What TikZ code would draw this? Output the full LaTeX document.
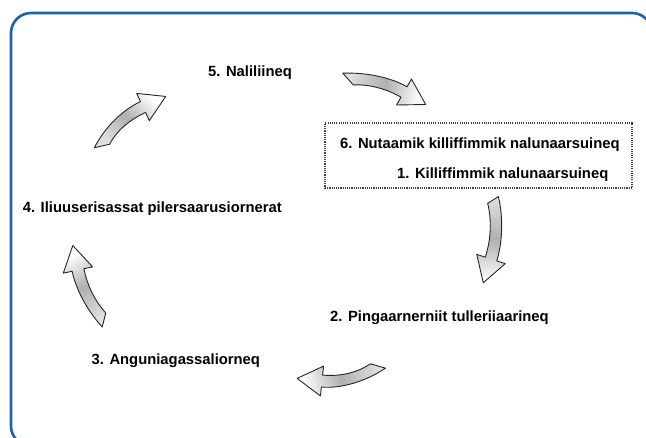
\documentclass[tikz,border=0pt]{standalone}
\usepackage{fontspec}
\setmainfont{Liberation Sans}
\usetikzlibrary{calc}
\definecolor{frameblue}{RGB}{28,99,171}
\tikzset{
  lbl/.style={anchor=base west, inner sep=0pt, font=\bfseries\fontsize{14.8}{16}\selectfont, text=black},
  dotbox/.style={draw=black!75, line width=1.3pt, dash pattern=on 1.1pt off 1.1pt, minimum width=307pt, minimum height=65pt, inner sep=0pt},
  arrowshape/.style={draw=black!85, line width=0.9pt, line join=round, left color=white, right color=gray!25, middle color=gray!62},
}
% #1 start, #2 start heading, #3 head base, #4 end heading, #5 shading angle, #6 tail slant
\newcommand{\curvarrow}[6]{%
  \shadedraw[arrowshape, shading angle=#5]
   ($#1+(#2-90:6)+(#2+180:#6)$) .. controls ($#1+(#2-90:6)+(#2:19)$) and ($#3+(#4-90:6)+(#4+180:19)$) .. ($#3+(#4-90:6)$)
   -- ($#3+(#4-90:15)$) -- ($#3+(#4:25)$) -- ($#3+(#4+90:15)$) -- ($#3+(#4+90:6)$)
   .. controls ($#3+(#4+90:6)+(#4+180:19)$) and ($#1+(#2+90:6)+(#2:19)$) .. ($#1+(#2+90:6)+(#2:#6)$) -- cycle;}
\begin{document}
\begin{tikzpicture}[x=1pt,y=-1pt]
\useasboundingbox (0,0) rectangle (646,437);
\clip (0,0) rectangle (646,437);
\fill[white] (0,0) rectangle (646,437);
\draw[frameblue, line width=2.6pt, rounded corners=20pt] (11,13) rectangle (652,446);
\node[dotbox] (box) at (478.5,155.5) {};
\node[lbl] (n5) at (208,76) {5. Naliliineq};
\node[lbl] (n6) at (340,148) {6. Nutaamik killiffimmik nalunaarsuineq};
\node[lbl] (n1) at (397,178) {1. Killiffimmik nalunaarsuineq};
\node[lbl] (n4) at (22.7,212) {4. Iliuuserisassat pilersaarusiornerat};
\node[lbl] (n2) at (330,321) {2. Pingaarnerniit tulleriiaarineq};
\node[lbl] (n3) at (91.5,364) {3. Anguniagassaliorneq};
% arrow end points
\coordinate (aS) at (348,79);  \coordinate (aE) at (404,92);
\coordinate (bS) at (493,200); \coordinate (bE) at (491,259);
\coordinate (cS) at (378,366); \coordinate (cE) at (322,381);
\coordinate (dS) at (104,320); \coordinate (dE) at (78,270);
\coordinate (eS) at (102,146); \coordinate (eE) at (143,107);
\curvarrow{(aS)}{-2}{(aE)}{30}{-104}{5}
\curvarrow{(bS)}{76}{(bE)}{108}{-182}{2}
\curvarrow{(cS)}{146}{(cE)}{186}{-255}{5}
\curvarrow{(dS)}{228}{(dE)}{258}{-333}{4}
\curvarrow{(eS)}{297}{(eE)}{335}{-46}{5}
\end{tikzpicture}
\end{document}
